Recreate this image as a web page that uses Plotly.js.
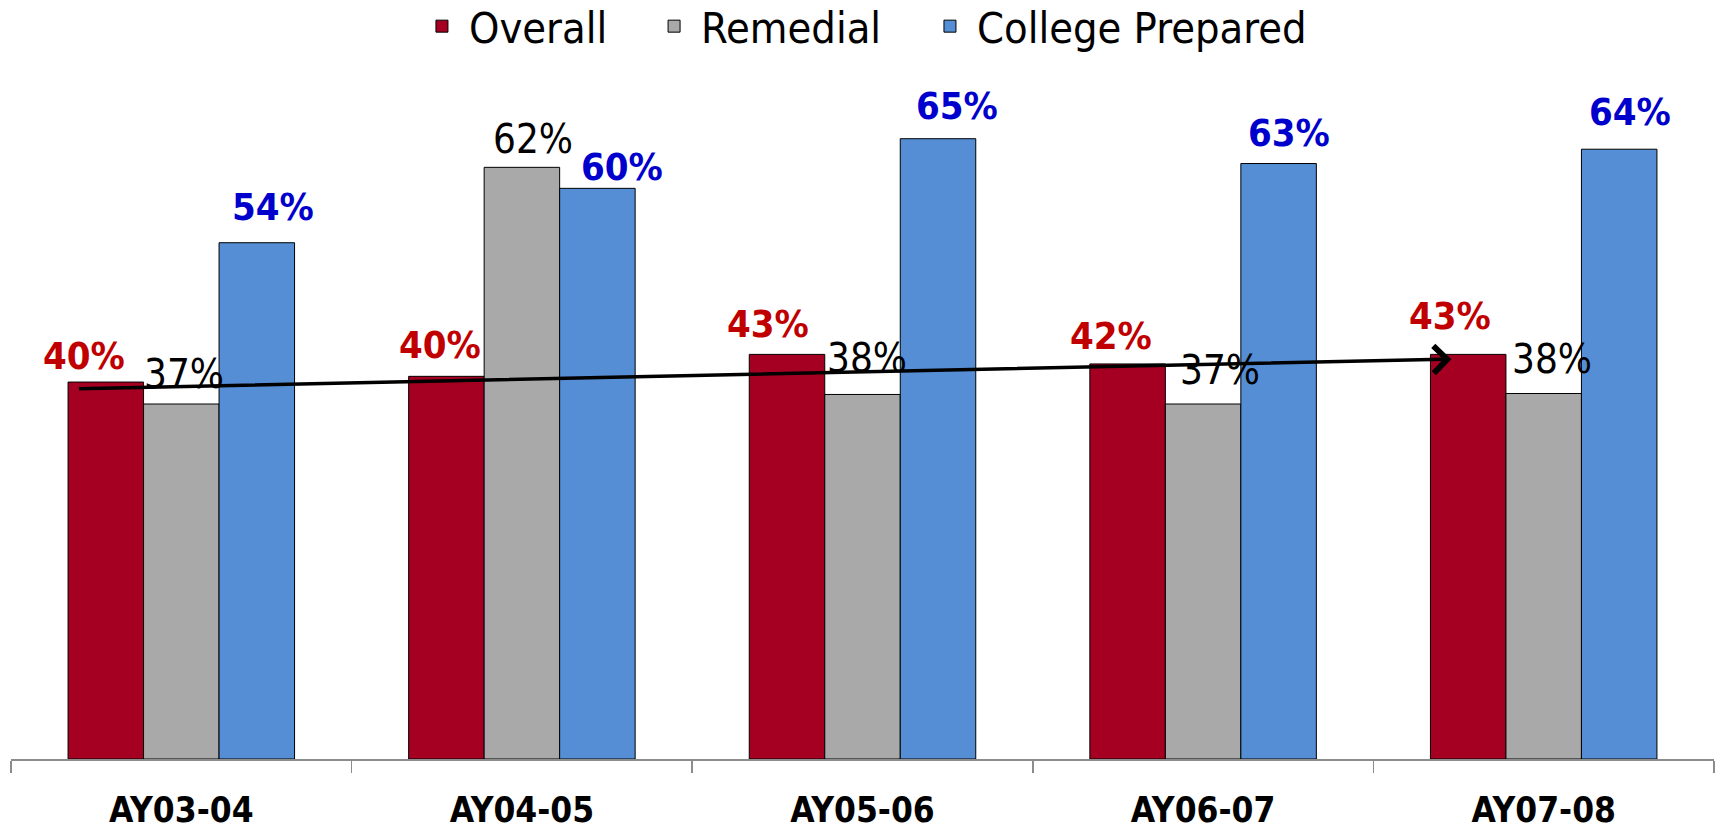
<!DOCTYPE html>
<html><head><meta charset="utf-8">
<script src="https://cdn.plot.ly/plotly-3.0.1.min.js"></script>
<style>html,body{margin:0;padding:0;background:#fff}#chart{width:1717px;height:830px}</style>
</head><body><div id="chart"></div>
<script>
// ---- data ----
const categories = ['AY03-04', 'AY04-05', 'AY05-06', 'AY06-07', 'AY07-08'];
const seriesNames = ['Overall', 'Remedial', 'College Prepared'];
const overall = [39.5, 40.1, 42.4, 41.4, 42.4];
const remedial = [37.2, 62.0, 38.2, 37.2, 38.3];
const collegePrepared = [54.1, 59.8, 65.0, 62.4, 63.9];
const overallLabels = ['40%', '40%', '43%', '42%', '43%'];
const remedialLabels = ['37%', '62%', '38%', '37%', '38%'];
const collegeLabels = ['54%', '60%', '65%', '63%', '64%'];
// hand-drawn trend arrow over Overall (start / end values)
const trendValues = [38.8, 41.9];

// ---- style ----
const FONT = '"DejaVu Sans Condensed", "Liberation Sans Narrow", "DejaVu Sans", sans-serif';
const colors = ['#A50021', '#A9A9A9', '#558ED5'];
const labelColors = ['#C00000', '#000000', '#0000CC'];
const labelWeights = ['bold', 'normal', 'bold'];
const labelSizes = [38, 40, 38];
const bargap = 0.335;
const barW = (1 - bargap) / 3;
// pixel nudges of the data labels, as placed in the original
const labelNudgeX = [[-22, -6, -19, -17, -18], [3, 11, 4, 17, 8], [16, 25, 19, 10, 11]];
const labelNudgeY = [[26, 31, 30, 28, 38], [30, 28, 36, 34, 35], [36, 21, 33, 31, 37]];
const trendX = [-0.305, 3.729];
const legendIds = ['legend', 'legend2', 'legend3'];
const legendX = [0.2372, 0.3735, 0.5355];

const values = [overall, remedial, collegePrepared];
const labels = [overallLabels, remedialLabels, collegeLabels];

const traces = values.map((v, k) => ({
  type: 'bar', name: seriesNames[k], x: categories, y: v, legend: legendIds[k],
  marker: {color: colors[k], line: {color: '#000', width: 1}},
  hoverinfo: 'x+y'
}));

const annotations = [];
values.forEach((v, k) => {
  v.forEach((val, j) => {
    annotations.push({
      xref: 'x', yref: 'y', x: j + (k - 1) * barW, y: val,
      text: labels[k][j], showarrow: false,
      xanchor: 'center', yanchor: 'middle',
      xshift: labelNudgeX[k][j], yshift: labelNudgeY[k][j],
      font: {family: FONT, size: labelSizes[k], color: labelColors[k], weight: labelWeights[k]}
    });
  });
});
annotations.push({
  xref: 'x', yref: 'y', axref: 'x', ayref: 'y',
  x: trendX[1], y: trendValues[1], ax: trendX[0], ay: trendValues[0],
  text: '', showarrow: true, arrowhead: 4, arrowsize: 1.5, arrowwidth: 3.5, arrowcolor: '#000',
  standoff: 0, startstandoff: 0
});

const layout = {
  width: 1717, height: 830,
  margin: {l: 11, r: 3, t: 91, b: 71, autoexpand: false},
  paper_bgcolor: '#fff', plot_bgcolor: '#fff',
  barmode: 'group', bargap: bargap, bargroupgap: 0,
  showlegend: true,
  xaxis: {type: 'category', showline: true, linecolor: '#8c8c8c', linewidth: 1.5,
    ticks: 'outside', tickson: 'boundaries', ticklen: 12, tickcolor: '#8c8c8c', tickwidth: 1.5,
    showgrid: false, zeroline: false, ticklabelstandoff: 19, automargin: false,
    tickfont: {family: FONT, size: 35, color: '#000', weight: 'bold'}},
  yaxis: {visible: false, range: [0, 70], fixedrange: true},
  annotations: annotations
};
legendIds.forEach((id, k) => {
  layout[id] = {orientation: 'h', x: legendX[k], xanchor: 'left', y: 1.097, yanchor: 'middle',
    font: {family: FONT, size: 43, color: '#000'}, itemwidth: 44, bgcolor: 'rgba(0,0,0,0)'};
});

Plotly.newPlot('chart', traces, layout, {displayModeBar: false, staticPlot: true});
</script></body></html>
